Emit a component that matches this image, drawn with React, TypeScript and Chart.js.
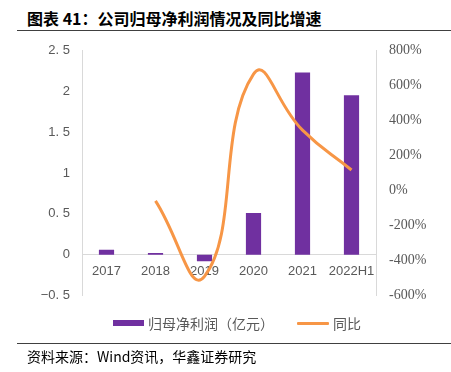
import React, { useEffect, useRef } from "react";
import { Chart, registerables } from "chart.js";

Chart.register(...registerables);

const categories = ["2017", "2018", "2019", "2020", "2021", "2022H1"];
const netProfit = [0.06, 0.02, -0.08, 0.51, 2.23, 1.95];
const yoyGrowth = [null, -59, -490, 665, 345, 117];
const leftTicks = [-0.5, 0, 0.5, 1, 1.5, 2, 2.5];
const rightTicks = [-600, -400, -200, 0, 200, 400, 600, 800];

const titleText = "图表 41：公司归母净利润情况及同比增速";
const sourceText = "资料来源：Wind资讯，华鑫证券研究";
const barLabel = "归母净利润（亿元）";
const lineLabel = "同比";

const PURPLE = "#7030A0";
const ORANGE = "#F79646";
const GRAY = "#595959";
const CJK = '"Noto Sans CJK SC", "Liberation Sans", sans-serif';

function fmtLeft(v: number): string {
  if (Number.isInteger(v)) return String(v);
  const s = v.toFixed(1).replace(".", ". ");
  return s.replace("-", "−");
}

export default function App() {
  const canvasRef = useRef<HTMLCanvasElement | null>(null);

  useEffect(() => {
    if (!canvasRef.current) return;
    const chart = new Chart(canvasRef.current, {
      type: "bar",
      data: {
        labels: categories,
        datasets: [
          {
            type: "line",
            label: lineLabel,
            data: yoyGrowth,
            yAxisID: "y1",
            borderColor: ORANGE,
            backgroundColor: ORANGE,
            borderWidth: 3,
            pointRadius: 0,
            tension: 0.5,
            order: 1,
          } as any,
          {
            type: "bar",
            label: barLabel,
            data: netProfit,
            yAxisID: "y",
            backgroundColor: PURPLE,
            barPercentage: 0.31,
            categoryPercentage: 1,
            order: 2,
          },
        ],
      },
      options: {
        animation: false,
        responsive: false,
        maintainAspectRatio: false,
        layout: { padding: { top: 13, bottom: 12, left: 0, right: 0 } },
        plugins: {
          legend: { display: false },
          tooltip: { enabled: false },
        },
        scales: {
          x: {
            type: "category",
            position: { y: 0 } as any,
            grid: { display: false, drawTicks: false },
            border: { color: "#d9d9d9", width: 1 },
            ticks: {
              color: GRAY,
              font: { family: '"Liberation Sans", Arial, sans-serif', size: 13 },
              padding: 9,
              maxRotation: 0,
              autoSkip: false,
            },
          },
          y: {
            position: "left",
            min: -0.5,
            max: 2.5,
            afterBuildTicks: (scale: any) => {
              scale.ticks = leftTicks.map((v) => ({ value: v }));
            },
            afterFit: (scale: any) => {
              scale.width = 82;
            },
            grid: { display: false, drawTicks: false },
            border: { color: "#d9d9d9", width: 1 },
            ticks: {
              color: GRAY,
              font: { family: '"Liberation Sans", Arial, sans-serif', size: 13 },
              padding: 12,
              callback: (v: any) => fmtLeft(Number(v)),
            },
          },
          y1: {
            position: "right",
            min: -600,
            max: 800,
            afterBuildTicks: (scale: any) => {
              scale.ticks = rightTicks.map((v) => ({ value: v }));
            },
            afterFit: (scale: any) => {
              scale.width = 75;
            },
            grid: { display: false, drawTicks: false },
            border: { color: "#d9d9d9", width: 1 },
            ticks: {
              color: GRAY,
              font: { family: '"Liberation Serif", "Times New Roman", serif', size: 14 },
              padding: 13,
              callback: (v: any) => `${v}%`,
            },
          },
        },
      },
    });
    return () => chart.destroy();
  }, []);

  return (
    <div
      style={{
        position: "fixed",
        left: 0,
        top: 0,
        width: 451,
        height: 372,
        background: "#fff",
        fontFamily: CJK,
      }}
    >
      <div
        style={{
          position: "absolute",
          left: 27,
          top: 7,
          fontSize: 16,
          fontWeight: 700,
          color: "#000",
          whiteSpace: "nowrap",
          lineHeight: "22px",
        }}
      >
        {titleText}
      </div>
      <div
        style={{
          position: "absolute",
          left: 17,
          top: 30,
          width: 434,
          height: 1,
          background: "#404040",
        }}
      />
      <canvas
        ref={canvasRef}
        width={451}
        height={288}
        style={{ position: "absolute", left: 0, top: 29, width: 451, height: 288 }}
      />
      <div
        style={{
          position: "absolute",
          left: 113,
          top: 320,
          width: 31,
          height: 6,
          background: PURPLE,
        }}
      />
      <div
        style={{
          position: "absolute",
          left: 148,
          top: 313,
          fontSize: 14,
          lineHeight: "20px",
          color: GRAY,
          whiteSpace: "nowrap",
        }}
      >
        {barLabel}
      </div>
      <div
        style={{
          position: "absolute",
          left: 297,
          top: 322,
          width: 32,
          height: 3,
          background: ORANGE,
          borderRadius: 1,
        }}
      />
      <div
        style={{
          position: "absolute",
          left: 333,
          top: 313,
          fontSize: 14,
          lineHeight: "20px",
          color: GRAY,
          whiteSpace: "nowrap",
        }}
      >
        {lineLabel}
      </div>
      <div
        style={{
          position: "absolute",
          left: 17,
          top: 343,
          width: 434,
          height: 1,
          background: "#404040",
        }}
      />
      <div
        style={{
          position: "absolute",
          left: 27,
          top: 346,
          fontSize: 14,
          lineHeight: "20px",
          color: "#000",
          whiteSpace: "nowrap",
        }}
      >
        {sourceText}
      </div>
    </div>
  );
}
